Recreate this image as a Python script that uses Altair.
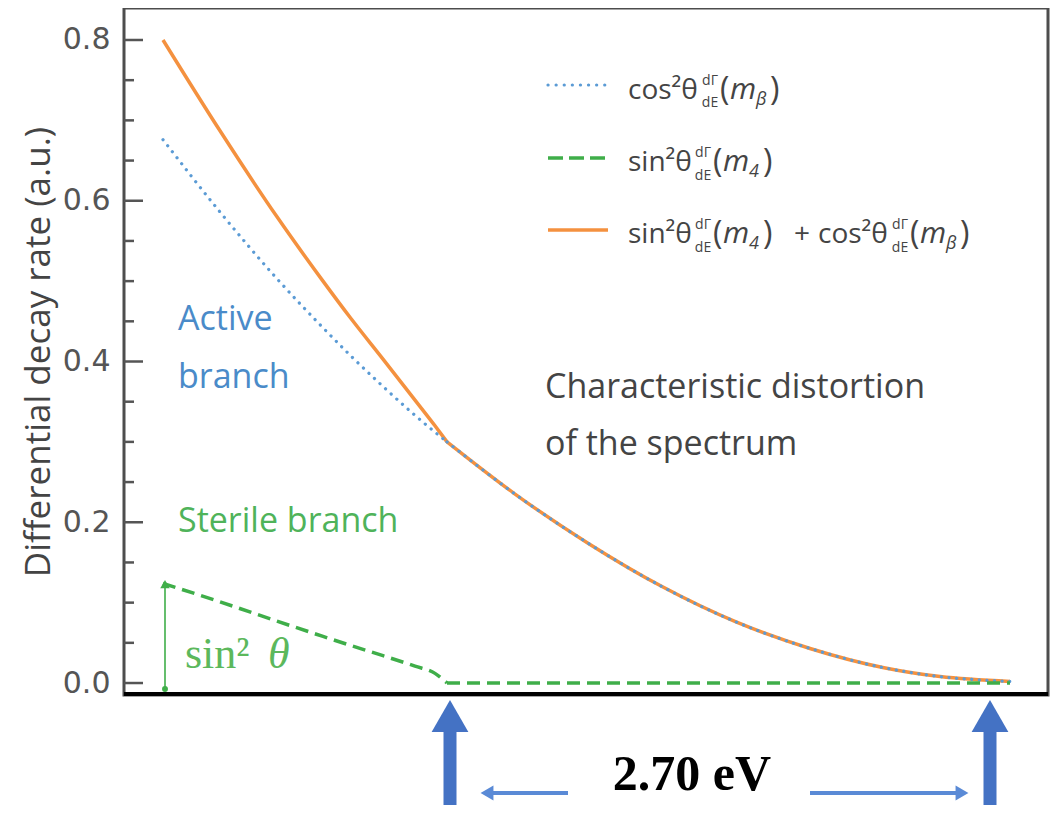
import altair as alt
import pandas as pd

# ---------------- data ----------------
energy_left = [-1.42, -1.135, -0.85, -0.62, -0.485, -0.32, -0.16, -0.06, 0.0]
energy_right = [0.0, 0.335, 0.705, 1.075, 1.445, 1.815, 2.185, 2.465, 2.815]

active_left = [0.676, 0.586, 0.503, 0.442, 0.408, 0.369, 0.333, 0.312, 0.300]
active_right = [0.300, 0.236, 0.174, 0.120, 0.076, 0.043, 0.019, 0.008, 0.002]

sterile_left = [0.124, 0.101, 0.077, 0.058, 0.047, 0.034, 0.021, 0.012, 0.000]
sterile_right = [0.0, 0.0, 0.0, 0.0, 0.0, 0.0, 0.0, 0.0, 0.0]

total_left = [0.800, 0.687, 0.580, 0.500, 0.455, 0.403, 0.352, 0.320, 0.300]
total_right = [0.300, 0.236, 0.174, 0.120, 0.076, 0.043, 0.019, 0.008, 0.002]

y_major = [0.0, 0.2, 0.4, 0.6, 0.8]
y_minor = [0.05, 0.1, 0.15, 0.25, 0.3, 0.35, 0.45, 0.5, 0.55, 0.65, 0.7, 0.75]

gap_label = "2.70 eV"
arrow_energies = [0.015, 2.715]

# ---------------- layout ----------------
W, H = 924, 687
X_DOMAIN = [-1.615, 3.005]
Y_DOMAIN = [-0.0149, 0.8398]

ORANGE = "#f4913f"
BLUE = "#5b9bd5"
GREEN = "#3fae49"
ARROW = "#4472c4"
TXT = "#444444"
SANS = "Open Sans"


def px2e(px):
    # page pixel -> energy coordinate (annotation placement only)
    return (px - 447) / 200.0


def py2v(py):
    return (683 - py) / 803.75


XE = alt.X("E:Q", scale=alt.Scale(domain=X_DOMAIN, nice=False, zero=False), axis=None)
YV = alt.Y(
    "v:Q",
    scale=alt.Scale(domain=Y_DOMAIN, nice=False, zero=False),
    axis=alt.Axis(
        values=y_major, format=".1f", tickSize=0, domain=False, grid=False,
        labelFont="DejaVu Sans", labelFontSize=30, labelColor="#555555", labelPadding=14,
        title="Differential decay rate (a.u.)", titleFont=SANS, titleFontSize=35,
        titleFontWeight="normal", titleColor=TXT, titlePadding=6,
    ),
)

rows = []
for name, seg, es, vs in [
    ("total", "L", energy_left, total_left), ("total", "R", energy_right, total_right),
    ("active", "L", energy_left, active_left), ("active", "R", energy_right, active_right),
    ("sterile", "L", energy_left, sterile_left), ("sterile", "R", energy_right, sterile_right),
]:
    for i, (e, v) in enumerate(zip(es, vs)):
        rows.append({"series": name, "seg": seg, "idx": i, "E": e, "v": v})
curves = pd.DataFrame(rows)


def curve(name, **props):
    return (
        alt.Chart(curves)
        .transform_filter(alt.datum.series == name)
        .mark_line(interpolate="monotone", **props)
        .encode(x=XE, y=YV, detail="seg:N", order="idx:Q")
    )


orange_line = curve("total", color=ORANGE, strokeWidth=3.5)
blue_line = curve("active", color=BLUE, strokeWidth=3.2, strokeDash=[0.1, 7.5], strokeCap="round")
green_line = curve("sterile", color=GREEN, strokeWidth=3.5, strokeDash=[13, 7])

# inward y ticks
major_ticks = alt.Chart(pd.DataFrame({"v": y_major})).mark_rule(color="#555555", strokeWidth=2.5).encode(
    y=YV, x=alt.value(0), x2=alt.value(19))
minor_ticks = alt.Chart(pd.DataFrame({"v": y_minor})).mark_rule(color="#555555", strokeWidth=2.5).encode(
    y=YV, x=alt.value(0), x2=alt.value(10))
bottom_line = alt.Chart(pd.DataFrame({"a": [0]})).mark_rule(color="black", strokeWidth=4).encode(
    x=alt.value(0), x2=alt.value(W), y=alt.value(H - 1))


def text_layer(items, **props):
    df = pd.DataFrame([{"E": px2e(x), "v": py2v(y), "label": t} for x, y, t in items])
    return alt.Chart(df).mark_text(**props).encode(x=XE, y=YV, text="label:N")


def rule_layer(items, **props):
    df = pd.DataFrame([{"E": e1, "E2": e2, "v": v1, "v2": v2} for e1, e2, v1, v2 in items])
    return alt.Chart(df).mark_rule(**props).encode(x=XE, x2="E2:Q", y=YV, y2="v2:Q")


def point_layer(items, **props):
    df = pd.DataFrame([{"E": e, "v": v} for e, v in items])
    return alt.Chart(df).mark_point(filled=True, opacity=1, **props).encode(x=XE, y=YV)


# annotations in the plot
active_txt = text_layer([(178, 320, "Active"), (178, 378, "branch")],
                        font=SANS, fontSize=34, color="#4a8bc9", align="left", baseline="middle")
sterile_txt = text_layer([(178, 522, "Sterile branch")],
                         font=SANS, fontSize=34, color="#4fb35a", align="left", baseline="middle")
distort_txt = text_layer([(545, 388, "Characteristic distortion"), (545, 445, "of the spectrum")],
                         font=SANS, fontSize=34, color=TXT, align="left", baseline="middle")
sin_txt = text_layer([(185, 655, "sin²")], font="Liberation Serif", fontSize=44, color="#5cb85c",
                     align="left", baseline="middle")
theta_txt = text_layer([(268, 655, "θ")], font="Liberation Serif", fontSize=44, fontStyle="italic",
                       color="#5cb85c", align="left", baseline="middle")

# sin^2 theta amplitude arrow
amp_rule = rule_layer([(px2e(165), px2e(165), py2v(690), py2v(585))], color=GREEN, strokeWidth=1.6)
amp_head = point_layer([(px2e(165), py2v(584))], shape="triangle-up", size=90, color=GREEN)
amp_foot = point_layer([(px2e(165), py2v(689))], shape="circle", size=35, color=GREEN)

# threshold arrows below the axis
big_shafts = rule_layer([(e, e, py2v(725), py2v(805)) for e in arrow_energies], color=ARROW, strokeWidth=13)
big_heads = point_layer([(e, py2v(716)) for e in arrow_energies], shape="triangle-up", size=1350, color=ARROW)
h_lines = rule_layer([(px2e(490), px2e(568), py2v(793), py2v(793)),
                      (px2e(810), px2e(958), py2v(793), py2v(793))], color="#5a8ad6", strokeWidth=4)
h_heads_l = point_layer([(px2e(487), py2v(793))], shape="triangle-left", size=220, color="#5a8ad6")
h_heads_r = point_layer([(px2e(962), py2v(793))], shape="triangle-right", size=220, color="#5a8ad6")
gap_txt = text_layer([(692, 775, gap_label)], font="Liberation Serif", fontSize=50, fontWeight="bold",
                     color="black", align="center", baseline="middle")

# legend (drawn by hand to keep the stacked dΓ/dE fractions)
leg_rules = [
    rule_layer([(px2e(548), px2e(608), py2v(85), py2v(85))], color=BLUE, strokeWidth=3.2,
               strokeDash=[0.1, 8], strokeCap="round"),
    rule_layer([(px2e(548), px2e(608), py2v(158), py2v(158))], color=GREEN, strokeWidth=3.5,
               strokeDash=[15, 6]),
    rule_layer([(px2e(548), px2e(608), py2v(230), py2v(230))], color=ORANGE, strokeWidth=3.5),
]
leg_main = text_layer([
    (628, 99, "cos²θ"),
    (628, 171, "sin²θ"),
    (628, 243, "sin²θ"), (794, 243, "+"),
    (818, 243, "cos²θ"),
], font=SANS, fontSize=28, color=TXT, align="left", baseline="alphabetic")
leg_paren = text_layer([
    (720, 100, "("), (770, 100, ")"),
    (713, 172, "("), (763, 172, ")"),
    (713, 244, "("), (763, 244, ")"),
    (910, 244, "("), (960, 244, ")"),
], font=SANS, fontSize=32, color=TXT, align="left", baseline="alphabetic")
leg_m = text_layer([(730, 99, "m"), (723, 171, "m"), (723, 243, "m"), (920, 243, "m")],
                   font=SANS, fontSize=30, fontStyle="italic", color=TXT, align="left", baseline="alphabetic")
leg_sub = text_layer([(756, 105, "β"), (749, 177, "4"), (749, 249, "4"), (946, 249, "β")],
                     font=SANS, fontSize=18, fontStyle="italic", color=TXT, align="left", baseline="alphabetic")
leg_frac = text_layer([
    (710, 85, "dΓ"), (710, 107, "dE"),
    (703, 157, "dΓ"), (703, 180, "dE"),
    (703, 229, "dΓ"), (703, 252, "dE"),
    (900, 229, "dΓ"), (900, 252, "dE"),
], font=SANS, fontSize=14, color=TXT, align="center", baseline="alphabetic")

chart = alt.layer(
    orange_line, blue_line, green_line,
    major_ticks, minor_ticks, bottom_line,
    active_txt, sterile_txt, distort_txt, sin_txt, theta_txt,
    amp_rule, amp_head, amp_foot,
    big_shafts, big_heads, h_lines, h_heads_l, h_heads_r, gap_txt,
    *leg_rules, leg_main, leg_paren, leg_m, leg_sub, leg_frac,
).properties(
    width=W, height=H,
    autosize=alt.AutoSizeParams(type="none"),
    padding={"left": 116, "top": 0, "right": 2, "bottom": 112},
).configure_view(stroke="#4d4d4d", strokeWidth=3)

chart.save("out.html", embed_options={"renderer": "svg", "actions": False})
